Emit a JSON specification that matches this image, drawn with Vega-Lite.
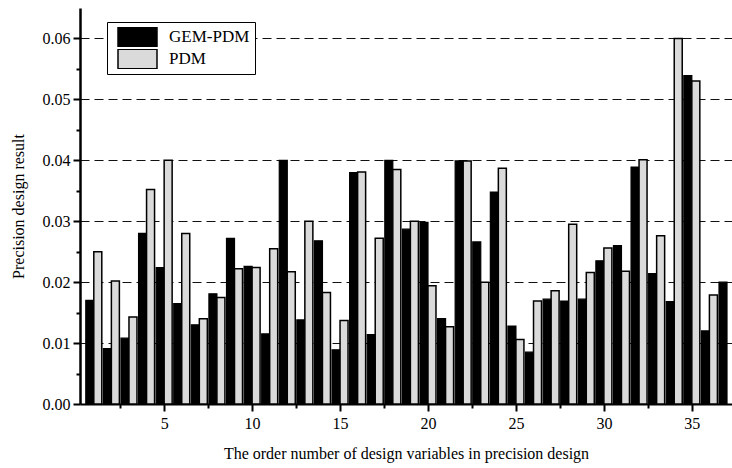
{
  "$schema": "https://vega.github.io/schema/vega-lite/v6.json",
  "autosize": {"type": "none"},
  "padding": {"left": 80, "top": 8, "right": 0, "bottom": 64},
  "width": 652,
  "height": 396,
  "background": "white",
  "config": {
    "font": "Liberation Serif",
    "view": {"stroke": null},
    "axis": {"labelFont": "Liberation Serif", "titleFont": "Liberation Serif", "labelColor": "black", "titleColor": "black", "titleFontWeight": "normal", "domainColor": "black", "tickColor": "black"},
    "legend": {"labelFont": "Liberation Serif", "titleFont": "Liberation Serif"}
  },
  "datasets": {
    "results": [
      {"n": 1, "method": "GEM-PDM", "value": 0.0170}, {"n": 1, "method": "PDM", "value": 0.0250},
      {"n": 2, "method": "GEM-PDM", "value": 0.0091}, {"n": 2, "method": "PDM", "value": 0.0202},
      {"n": 3, "method": "GEM-PDM", "value": 0.0108}, {"n": 3, "method": "PDM", "value": 0.0143},
      {"n": 4, "method": "GEM-PDM", "value": 0.0280}, {"n": 4, "method": "PDM", "value": 0.0352},
      {"n": 5, "method": "GEM-PDM", "value": 0.0224}, {"n": 5, "method": "PDM", "value": 0.0400},
      {"n": 6, "method": "GEM-PDM", "value": 0.0165}, {"n": 6, "method": "PDM", "value": 0.0280},
      {"n": 7, "method": "GEM-PDM", "value": 0.0130}, {"n": 7, "method": "PDM", "value": 0.0140},
      {"n": 8, "method": "GEM-PDM", "value": 0.0181}, {"n": 8, "method": "PDM", "value": 0.0175},
      {"n": 9, "method": "GEM-PDM", "value": 0.0272}, {"n": 9, "method": "PDM", "value": 0.0222},
      {"n": 10, "method": "GEM-PDM", "value": 0.0226}, {"n": 10, "method": "PDM", "value": 0.0224},
      {"n": 11, "method": "GEM-PDM", "value": 0.0115}, {"n": 11, "method": "PDM", "value": 0.0255},
      {"n": 12, "method": "GEM-PDM", "value": 0.0400}, {"n": 12, "method": "PDM", "value": 0.0217},
      {"n": 13, "method": "GEM-PDM", "value": 0.0138}, {"n": 13, "method": "PDM", "value": 0.0300},
      {"n": 14, "method": "GEM-PDM", "value": 0.0268}, {"n": 14, "method": "PDM", "value": 0.0183},
      {"n": 15, "method": "GEM-PDM", "value": 0.0089}, {"n": 15, "method": "PDM", "value": 0.0137},
      {"n": 16, "method": "GEM-PDM", "value": 0.0380}, {"n": 16, "method": "PDM", "value": 0.0381},
      {"n": 17, "method": "GEM-PDM", "value": 0.0114}, {"n": 17, "method": "PDM", "value": 0.0272},
      {"n": 18, "method": "GEM-PDM", "value": 0.0400}, {"n": 18, "method": "PDM", "value": 0.0385},
      {"n": 19, "method": "GEM-PDM", "value": 0.0287}, {"n": 19, "method": "PDM", "value": 0.0300},
      {"n": 20, "method": "GEM-PDM", "value": 0.0298}, {"n": 20, "method": "PDM", "value": 0.0194},
      {"n": 21, "method": "GEM-PDM", "value": 0.0140}, {"n": 21, "method": "PDM", "value": 0.0127},
      {"n": 22, "method": "GEM-PDM", "value": 0.0399}, {"n": 22, "method": "PDM", "value": 0.0399},
      {"n": 23, "method": "GEM-PDM", "value": 0.0266}, {"n": 23, "method": "PDM", "value": 0.0200},
      {"n": 24, "method": "GEM-PDM", "value": 0.0348}, {"n": 24, "method": "PDM", "value": 0.0387},
      {"n": 25, "method": "GEM-PDM", "value": 0.0128}, {"n": 25, "method": "PDM", "value": 0.0106},
      {"n": 26, "method": "GEM-PDM", "value": 0.0085}, {"n": 26, "method": "PDM", "value": 0.0169},
      {"n": 27, "method": "GEM-PDM", "value": 0.0172}, {"n": 27, "method": "PDM", "value": 0.0186},
      {"n": 28, "method": "GEM-PDM", "value": 0.0169}, {"n": 28, "method": "PDM", "value": 0.0295},
      {"n": 29, "method": "GEM-PDM", "value": 0.0172}, {"n": 29, "method": "PDM", "value": 0.0216},
      {"n": 30, "method": "GEM-PDM", "value": 0.0235}, {"n": 30, "method": "PDM", "value": 0.0256},
      {"n": 31, "method": "GEM-PDM", "value": 0.0260}, {"n": 31, "method": "PDM", "value": 0.0218},
      {"n": 32, "method": "GEM-PDM", "value": 0.0389}, {"n": 32, "method": "PDM", "value": 0.0401},
      {"n": 33, "method": "GEM-PDM", "value": 0.0214}, {"n": 33, "method": "PDM", "value": 0.0276},
      {"n": 34, "method": "GEM-PDM", "value": 0.0168}, {"n": 34, "method": "PDM", "value": 0.0600},
      {"n": 35, "method": "GEM-PDM", "value": 0.0539}, {"n": 35, "method": "PDM", "value": 0.0530},
      {"n": 36, "method": "GEM-PDM", "value": 0.0120}, {"n": 36, "method": "PDM", "value": 0.0179},
      {"n": 37, "method": "GEM-PDM", "value": 0.0200}
    ]
  },
  "data": {"name": "results"},
  "encoding": {
    "x": {
      "field": "n", "type": "quantitative",
      "scale": {"domain": [0.5, 37], "nice": false, "zero": false},
      "axis": {
        "title": "The order number of design variables in precision design",
        "titleFontSize": 16, "titlePadding": 14,
        "values": [2.5, 5, 7.5, 10, 12.5, 15, 17.5, 20, 22.5, 25, 27.5, 30, 32.5, 35],
        "labelExpr": "datum.value % 5 === 0 ? datum.value : ''",
        "labelFontSize": 16, "labelPadding": 4,
        "grid": false, "domainWidth": 2, "tickWidth": 2,
        "tickSize": {"condition": {"test": "datum.value % 5 === 0", "value": 7}, "value": 4}
      }
    },
    "y": {
      "field": "value", "type": "quantitative",
      "scale": {"domain": [0, 0.065], "nice": false},
      "axis": {
        "title": "Precision design result",
        "titleFontSize": 16, "titlePadding": 16,
        "values": [0, 0.005, 0.01, 0.015, 0.02, 0.025, 0.03, 0.035, 0.04, 0.045, 0.05, 0.055, 0.06],
        "labelExpr": "round(datum.value*1000) % 10 === 0 ? format(datum.value, '.2f') : ''",
        "labelFontSize": 16, "labelPadding": 3,
        "domainWidth": 2.5, "tickWidth": 2,
        "tickSize": {"condition": {"test": "round(datum.value*1000) % 10 === 0", "value": 7}, "value": 4},
        "grid": true, "gridColor": "#111", "gridDash": [9, 5], "gridWidth": 1.2,
        "gridOpacity": {"condition": {"test": "round(datum.value*1000) % 10 === 0 && datum.value > 0", "value": 1}, "value": 0}
      }
    },
    "color": {
      "field": "method", "type": "nominal",
      "scale": {"domain": ["GEM-PDM", "PDM"], "range": ["#000000", "#dadada"]},
      "legend": {
        "title": null, "orient": "none", "legendX": 27, "legendY": 14,
        "symbolType": "M-2,-1H2V1H-2Z", "symbolSize": 380,
        "symbolStrokeColor": "black", "symbolStrokeWidth": 1.5, "symbolOpacity": 1,
        "symbolOffset": 15,
        "labelFontSize": 17, "labelFont": "Liberation Serif", "labelColor": "black",
        "labelOffset": 21, "rowPadding": 2, "clipHeight": 20,
        "padding": 5, "strokeColor": "black", "fillColor": "white"
      }
    }
  },
  "layer": [
    {
      "transform": [{"filter": "datum.method === 'GEM-PDM'"}],
      "mark": {"type": "bar", "width": 8, "xOffset": -4, "stroke": "black", "strokeWidth": 1.2, "clip": true}
    },
    {
      "transform": [{"filter": "datum.method === 'PDM'"}],
      "mark": {"type": "bar", "width": 8, "xOffset": 4, "stroke": "black", "strokeWidth": 1.5, "clip": true}
    }
  ]
}
